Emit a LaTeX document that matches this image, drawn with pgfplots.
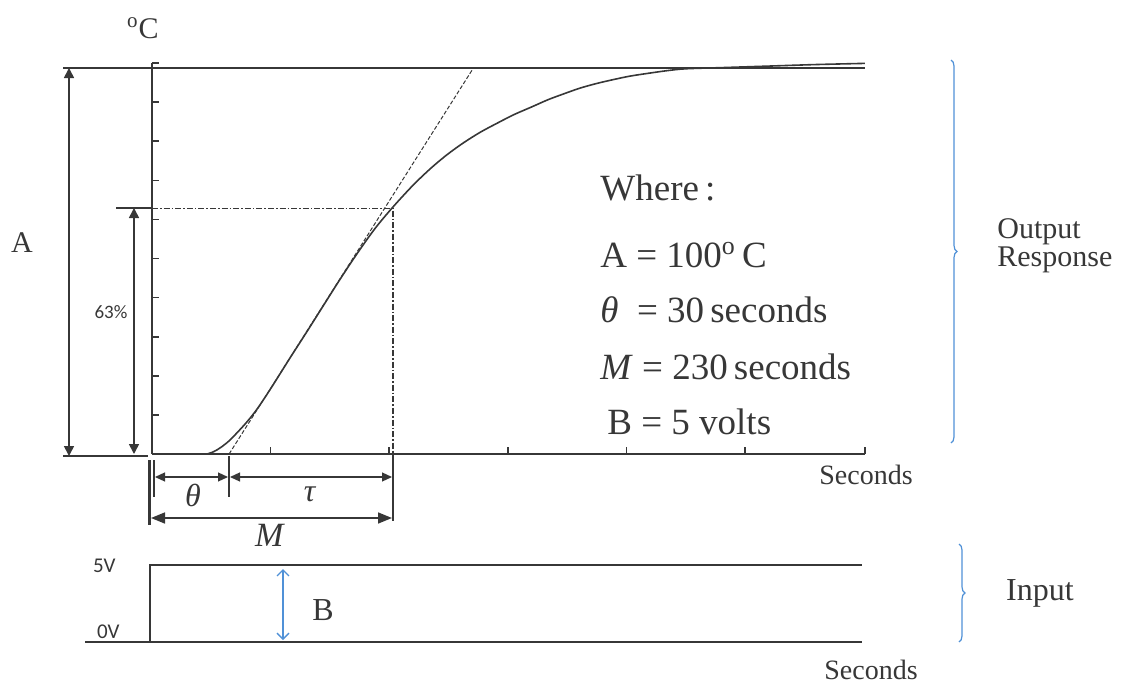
\documentclass[border=0pt]{standalone}
\usepackage{pgfplots}
\pgfplotsset{compat=1.18}
\usepackage{pgfplotstable}
\usepackage{fontspec}
\setmainfont{Liberation Serif}
\newfontfamily\calfont{Carlito}
\usetikzlibrary{arrows.meta,decorations.pathreplacing}
\definecolor{ink}{RGB}{55,55,55}
\definecolor{bblue}{RGB}{80,145,215}

\pgfplotstableread{
u v
46.4 0
52 0.6
58 1.7
65 3.4
72 5.6
80 8.3
88.5 11.6
100 16.9
116.4 24.9
130 31.4
144.2 38.3
158 45.0
172.9 51.9
188 58.4
203.2 64.0
220 69.6
235 74.0
249 77.6
263 80.7
277 83.4
291 85.7
305 87.9
320 89.9
334 91.8
348 93.4
361 94.8
375 96.0
389 97.0
403 97.9
420 98.7
434 99.3
450 99.8
480 100.1
520 100.5
560 100.9
601 101.2
}\response

\pgfplotstableread{
u v
-1.7 0
-1.7 5
598.7 5
}\stepinput

\pgfplotstableread{
u v
-56.5 0
598.7 0
}\baseinput

\begin{document}
\begin{tikzpicture}[x=0.5pt,y=-0.5pt]
\useasboundingbox (0,0) rectangle (1131,685);
\begin{axis}[
  at={(76pt,-227pt)}, anchor=south west,
  scale only axis, width=356.5pt, height=195.5pt,
  xmin=0, xmax=601.2, ymin=0, ymax=101.3,
  axis x line*=bottom, axis y line*=left,
  axis line style={ink, line width=1pt},
  xtick={100,200,300,400,500,601.2}, xticklabels={},
  ytick={10.13,20.26,30.39,40.52,50.65,60.78,70.91,81.04,91.17,101.3}, yticklabels={},
  tick align=inside, major tick length=3.5pt,
  tick style={ink, line width=0.8pt},
  clip=false,
]
\addplot[ink, line width=0.8pt, smooth] table[x=u,y=v] {\response};
\addplot[ink, line width=0.5pt, dash pattern=on 2pt off 1pt] coordinates {(65,0) (271,100)};
\addplot[ink, line width=0.6pt, dash pattern=on 3pt off 1pt on 0.8pt off 1pt] coordinates {(0,63.7) (203.2,63.7) (203.2,0)};
\end{axis}

\begin{axis}[
  at={(42.5pt,-321pt)}, anchor=south west,
  scale only axis, width=388.5pt, height=38.5pt,
  xmin=-56.5, xmax=598.7, ymin=0, ymax=5,
  hide axis, clip=false,
]
\addplot[ink, line width=1pt] table[x=u,y=v] {\baseinput};
\addplot[ink, line width=1.2pt] table[x=u,y=v] {\stepinput};
\end{axis}

\begin{scope}[ink, every node/.style={inner sep=0pt}]
% reference lines and A arrow
\draw[line width=1pt] (63,68) -- (865,68);
\draw[line width=1pt] (63,456) -- (148,456);
\draw[line width=0.8pt, {Triangle[length=5pt,width=5pt]}-{Triangle[length=5pt,width=5pt]}] (69,68) -- (69,456);
\draw[line width=0.8pt] (116,208) -- (152,208);
\draw[line width=0.8pt, {Triangle[length=5pt,width=5pt]}-{Triangle[length=5pt,width=5pt]}] (134,208) -- (134,454);
\node[font=\fontsize{15}{18}\selectfont] at (22,243) {A};
\node[font=\calfont\fontsize{9.5}{11}\selectfont] at (111,312) {63\%};
\node[font=\fontsize{15}{18}\selectfont] at (143,28) {\textsuperscript{o}C};
% dimension lines
\draw[line width=1.5pt] (149,460) -- (149,525);
\draw[line width=0.6pt] (154,460) -- (154,497);
\draw[line width=0.6pt] (229,456) -- (229,497);
\draw[line width=1.3pt] (393,452) -- (393,521);
\draw[line width=0.6pt, {Triangle[length=5pt,width=4.5pt]}-{Triangle[length=5pt,width=4.5pt]}] (155,477) -- (228,477);
\draw[line width=0.6pt, {Triangle[length=5pt,width=4.5pt]}-{Triangle[length=5pt,width=4.5pt]}] (230,477) -- (392,477);
\draw[line width=0.8pt, {Triangle[length=7pt,width=5.5pt]}-{Triangle[length=7pt,width=5.5pt]}] (151,518) -- (392,518);
\node[font=\fontsize{16}{18}\selectfont] at (193,495) {\textit{θ}};
\node[font=\fontsize{16}{18}\selectfont] at (310,494) {\textit{τ}};
\node[font=\fontsize{17}{19}\selectfont] at (270,535) {\textit{M}};
% where block
\node[anchor=west, font=\fontsize{18.5}{22}\selectfont] at (600,188) {Where\,:};
\node[anchor=west, font=\fontsize{18.5}{22}\selectfont] at (600,255) {A = 100\textsuperscript{o}\,C};
\node[anchor=west, font=\fontsize{18.5}{22}\selectfont] at (600,310) {\textit{θ}\ \ = 30\,seconds};
\node[anchor=west, font=\fontsize{18.5}{22}\selectfont] at (600,367) {\textit{M} = 230\,seconds};
\node[anchor=west, font=\fontsize{18.5}{22}\selectfont] at (607,422) {B = 5 volts};
% right side labels
\node[anchor=west, align=left, font=\fontsize{15}{14}\selectfont] at (997,246) {Output\\Response};
\node[font=\fontsize{14}{16}\selectfont] at (866,475) {Seconds};
\node[font=\fontsize{14}{16}\selectfont] at (871,670) {Seconds};
\node[font=\fontsize{16}{18}\selectfont] at (1040,593) {Input};
% input labels
\node[anchor=east, font=\calfont\fontsize{10.5}{12}\selectfont] at (116,566) {5V};
\node[anchor=south east, font=\calfont\fontsize{10.5}{12}\selectfont] at (120,639) {0V};
\node[font=\fontsize{16}{18}\selectfont] at (323,610) {B};
\end{scope}
% blue braces and arrow
\draw[bblue, line width=0.6pt, decorate, decoration={brace, amplitude=3pt}] (951,60) -- (951,443);
\draw[bblue, line width=0.6pt, decorate, decoration={brace, amplitude=3pt}] (959,544) -- (959,642);
\draw[bblue, line width=0.7pt, {Straight Barb[length=3pt,width=6pt]}-{Straight Barb[length=3pt,width=6pt]}] (283,569) -- (283,640);
\end{tikzpicture}
\end{document}
